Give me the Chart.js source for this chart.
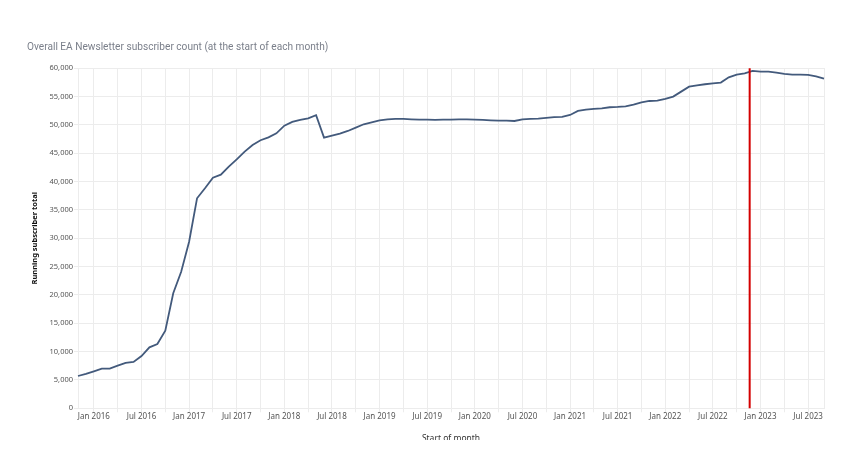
<!DOCTYPE html>
<html><head><meta charset="utf-8">
<script src="https://cdn.jsdelivr.net/npm/chart.js@4.4.1/dist/chart.umd.min.js"></script>
<style>
html,body{margin:0;padding:0;background:#fff;}
#wrap{width:853px;height:440px;overflow:hidden;position:relative;background:#fff;}
canvas{display:block;}
</style></head><body>
<div id="wrap"><canvas id="c" width="853" height="450"></canvas></div>
<script>
const months = [
 '2015-11','2015-12',
 '2016-01','2016-02','2016-03','2016-04','2016-05','2016-06','2016-07','2016-08','2016-09','2016-10','2016-11','2016-12',
 '2017-01','2017-02','2017-03','2017-04','2017-05','2017-06','2017-07','2017-08','2017-09','2017-10','2017-11','2017-12',
 '2018-01','2018-02','2018-03','2018-04','2018-05','2018-06','2018-07','2018-08','2018-09','2018-10','2018-11','2018-12',
 '2019-01','2019-02','2019-03','2019-04','2019-05','2019-06','2019-07','2019-08','2019-09','2019-10','2019-11','2019-12',
 '2020-01','2020-02','2020-03','2020-04','2020-05','2020-06','2020-07','2020-08','2020-09','2020-10','2020-11','2020-12',
 '2021-01','2021-02','2021-03','2021-04','2021-05','2021-06','2021-07','2021-08','2021-09','2021-10','2021-11','2021-12',
 '2022-01','2022-02','2022-03','2022-04','2022-05','2022-06','2022-07','2022-08','2022-09','2022-10','2022-11','2022-12',
 '2023-01','2023-02','2023-03','2023-04','2023-05','2023-06','2023-07','2023-08','2023-09'
];
const subscribers = [
 5700, 6060,
 6530, 7000, 7000, 7520, 8000, 8170, 9230, 10760, 11350, 13700, 20300, 24100,
 29400, 37060, 38830, 40700, 41230, 42640, 43940, 45290, 46470, 47300, 47820, 48530,
 49880, 50530, 50880, 51180, 51710, 47760, 48110, 48470, 48940, 49530, 50120, 50470,
 50820, 51000, 51060, 51060, 51000, 50940, 50940, 50900, 50940, 50940, 51000, 51000,
 50940, 50880, 50820, 50760, 50760, 50700, 51000, 51060, 51120, 51250, 51380, 51420,
 51760, 52470, 52700, 52820, 52940, 53120, 53180, 53290, 53590, 54000, 54230, 54290,
 54590, 55000, 55880, 56760, 57000, 57180, 57350, 57470, 58410, 58880, 59120, 59530,
 59410, 59410, 59240, 59000, 58880, 58880, 58820, 58590, 58180
];
const monthNames = ['Jan','Feb','Mar','Apr','May','Jun','Jul','Aug','Sep','Oct','Nov','Dec'];
const labelledMonths = ['01','07'];
const gridMonths = ['01','04','07','10'];
const yTicks = [0,5000,10000,15000,20000,25000,30000,35000,40000,45000,50000,55000,60000];
const markerDate = '2022-11-20';
const titleText = 'Overall EA Newsletter subscriber count (at the start of each month)';
const yTitle = 'Running subscriber total';
const xTitle = 'Start of month';

const GRID = '#ececec';
const FONT = 'Noto Sans';

function markerPosition() {
  const [y, m, d] = markerDate.split('-');
  const idx = months.indexOf(y + '-' + m);
  return idx + (parseInt(d, 10) - 1) / 30;
}

const markerPlugin = {
  id: 'marker',
  afterDatasetsDraw(chart) {
    const {ctx, chartArea, scales} = chart;
    const x = scales.x.getPixelForValue(markerPosition());
    ctx.save();
    ctx.strokeStyle = '#d40000';
    ctx.lineWidth = 2;
    ctx.beginPath();
    ctx.moveTo(x, chartArea.top);
    ctx.lineTo(x, chartArea.bottom);
    ctx.stroke();
    ctx.restore();
  }
};

new Chart(document.getElementById('c'), {
  type: 'line',
  data: {
    labels: months,
    datasets: [{
      data: subscribers,
      borderColor: '#435a7c',
      borderWidth: 1.8,
      pointRadius: 0,
      tension: 0,
      fill: false
    }]
  },
  options: {
    responsive: false,
    animation: false,
    devicePixelRatio: 1,
    layout: { padding: { left: 27, right: 29, top: 0, bottom: 0 } },
    plugins: {
      legend: { display: false },
      tooltip: { enabled: false },
      title: {
        display: true,
        text: titleText,
        align: 'start',
        color: '#7a7f8a',
        font: { family: 'Roboto', size: 10.15, weight: 'normal' },
        padding: { top: 41.5, bottom: 14.6 }
      }
    },
    scales: {
      x: {
        type: 'category',
        offset: false,
        afterFit(s) { s.height = 41.7; },
        grid: {
          color: c => gridMonths.includes(months[c.index]?.slice(5)) ? GRID : 'rgba(0,0,0,0)',
          tickColor: c => gridMonths.includes(months[c.index]?.slice(5)) ? GRID : 'rgba(0,0,0,0)',
          tickLength: 4,
          lineWidth: 1
        },
        border: { display: true, color: GRID },
        ticks: {
          autoSkip: false,
          maxRotation: 0,
          minRotation: 0,
          padding: 0,
          color: '#555',
          font: { family: FONT, size: 8 },
          callback(v, i) {
            const lab = months[i];
            const mm = lab.slice(5);
            if (!labelledMonths.includes(mm)) return '';
            return monthNames[parseInt(mm, 10) - 1] + ' ' + lab.slice(0, 4);
          }
        },
        title: {
          display: true,
          text: xTitle,
          color: '#333',
          font: { family: FONT, size: 8.5 },
          padding: { top: 0, bottom: 6.5 }
        }
      },
      y: {
        min: 0,
        max: 60000,
        afterFit(s) { s.width = 51; },
        afterBuildTicks(s) { s.ticks = yTicks.map(v => ({ value: v })); },
        grid: { color: GRID, tickColor: GRID, tickLength: 4 },
        border: { display: true, color: GRID },
        ticks: {
          padding: 1,
          color: '#555',
          font: { family: FONT, size: 7.5 },
          callback: v => v.toLocaleString('en-US')
        },
        title: {
          display: true,
          text: yTitle,
          color: '#111',
          font: { family: FONT, size: 7.5, weight: 'bold' },
          padding: { top: 3.5, bottom: 0 }
        }
      },
      yRight: {
        position: 'right',
        min: 0,
        max: 60000,
        afterFit(s) { s.width = 0; },
        grid: { display: false, drawOnChartArea: false, tickLength: 0 },
        border: { display: true, color: GRID },
        ticks: { display: false }
      }
    }
  },
  plugins: [markerPlugin]
});
</script>
</body></html>
